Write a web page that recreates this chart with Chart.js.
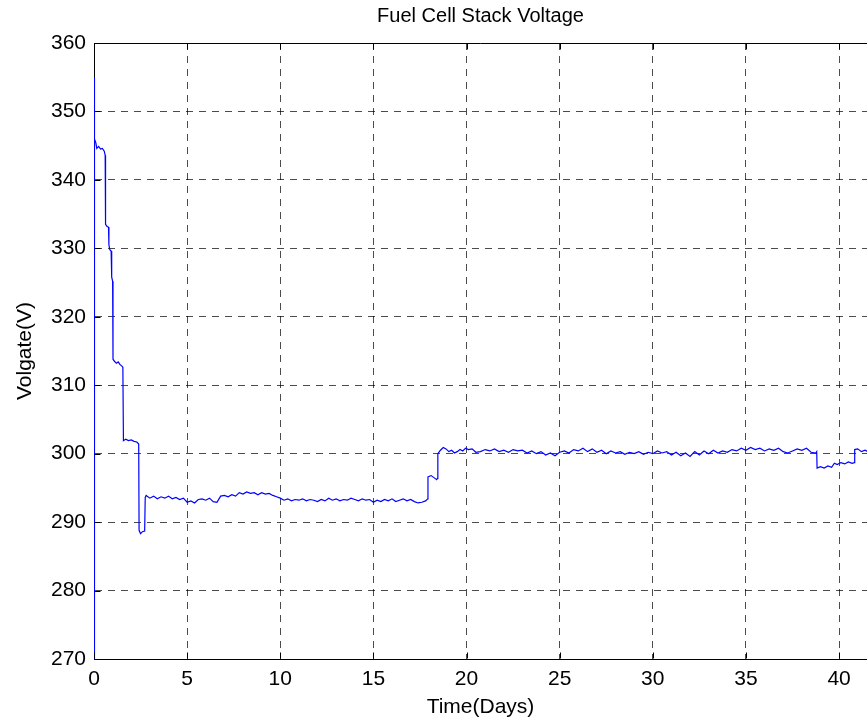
<!DOCTYPE html>
<html>
<head>
<meta charset="utf-8">
<script src="https://cdn.jsdelivr.net/npm/chart.js@4/dist/chart.umd.min.js"></script>
<style>
  body { margin: 0; background: #fff; }
  #wrap { width: 867px; height: 724px; }
</style>
</head>
<body>
<div id="wrap"><canvas id="voltChart"></canvas></div>
<script>
// data: time (days) and stack voltage (V)
const chartTitle = "Fuel Cell Stack Voltage";
const xTitle = "Time(Days)";
const yTitle = "Volgate(V)";

const xTicks = [0, 5, 10, 15, 20, 25, 30, 35, 40];
const yTicks = [270, 280, 290, 300, 310, 320, 330, 340, 350, 360];

const startTime = [0, 0, 0.05, 0.1, 0.15, 0.25, 0.35, 0.45, 0.55, 0.6, 0.62, 0.7, 0.78, 0.8, 0.85, 0.92,
  0.95, 1.0, 1.02, 1.1, 1.2, 1.3, 1.4, 1.5, 1.55, 1.58, 1.7, 1.85, 2.0, 2.15, 2.3, 2.4, 2.42, 2.5, 2.6,
  2.72, 2.75];
const startVolt = [270, 355, 346, 345.4, 344.6, 344.9, 344.5, 344.6, 344.2, 343.6, 333.5, 333.2, 333.1,
  330.5, 329.8, 329.6, 325.8, 325.2, 313.8, 313.5, 313.2, 313.4, 313.0, 312.8, 312.6, 301.9, 302.1, 301.9,
  302.0, 301.8, 301.7, 301.4, 288.8, 288.3, 288.6, 288.7, 293.6];

const plateau1Time = [2.8, 3.0, 3.2, 3.4, 3.6, 3.8, 4.0, 4.2, 4.4, 4.6, 4.8, 5.0, 5.2, 5.4, 5.6, 5.8, 6.0,
  6.2, 6.4, 6.6, 6.8, 7.0, 7.2, 7.4, 7.6, 7.8, 8.0, 8.2, 8.4, 8.6, 8.8, 9.0, 9.2, 9.4, 9.6, 9.8, 10.0,
  10.2, 10.4, 10.6, 10.8, 11.0, 11.2, 11.4, 11.6, 11.8, 12.0, 12.2, 12.4, 12.6, 12.8, 13.0, 13.2, 13.4,
  13.6, 13.8, 14.0, 14.2, 14.4, 14.6, 14.8, 15.0, 15.2, 15.4, 15.6, 15.8, 16.0, 16.2, 16.4, 16.6, 16.8,
  17.0, 17.2, 17.4, 17.6, 17.8, 17.92];
const plateau1Volt = [293.9, 293.5, 293.8, 293.4, 293.7, 293.5, 293.8, 293.4, 293.6, 293.3, 293.5, 292.9,
  293.1, 292.8, 293.3, 293.4, 293.2, 293.5, 293.0, 292.9, 293.8, 293.9, 293.7, 294.0, 293.8, 294.3, 294.1,
  294.4, 294.2, 294.3, 294.0, 294.3, 294.1, 294.2, 293.9, 293.7, 293.5, 293.2, 293.4, 293.1, 293.3, 293.2,
  293.4, 293.1, 293.3, 293.2, 293.0, 293.3, 293.1, 293.5, 293.2, 293.4, 293.1, 293.3, 293.2, 293.5, 293.3,
  293.1, 293.4, 293.2, 293.3, 292.9, 293.2, 293.0, 293.3, 293.1, 293.4, 293.0, 293.2, 293.4, 293.1, 293.3,
  293.0, 292.8, 292.9, 293.1, 293.4];

const plateau2Time = [17.93, 18.1, 18.25, 18.4, 18.44, 18.46, 18.6, 18.75, 18.9, 19.05, 19.2, 19.35, 19.5,
  19.65, 19.8, 19.95, 20.1, 20.3, 20.5, 20.75, 21.0, 21.25, 21.5, 21.75, 22.0, 22.25, 22.5, 22.75, 23.0,
  23.25, 23.5, 23.75, 24.0, 24.25, 24.5, 24.75, 25.0, 25.25, 25.5, 25.75, 26.0, 26.25, 26.5, 26.75, 27.0,
  27.25, 27.5, 27.75, 28.0, 28.25, 28.5, 28.75, 29.0, 29.25, 29.5, 29.75, 30.0, 30.25, 30.5, 30.75, 31.0,
  31.25, 31.5, 31.75, 32.0, 32.25, 32.5, 32.75, 33.0, 33.25, 33.5, 33.75, 34.0, 34.25, 34.5, 34.75, 35.0,
  35.25, 35.5, 35.75, 36.0, 36.25, 36.5, 36.75, 37.0, 37.25, 37.5, 37.75, 38.0, 38.25, 38.5, 38.75, 38.8];
const plateau2Volt = [296.6, 296.8, 296.5, 296.2, 296.4, 300.0, 300.5, 300.9, 300.7, 300.3, 300.5, 300.1,
  300.3, 300.6, 300.4, 300.8, 300.6, 300.7, 300.2, 300.3, 300.6, 300.4, 300.7, 300.3, 300.5, 300.2, 300.6,
  300.4, 300.5, 300.1, 300.4, 300.0, 300.3, 299.8, 300.1, 299.7, 300.2, 300.4, 300.1, 300.6, 300.4, 300.8,
  300.3, 300.7, 300.2, 300.5, 300.0, 300.4, 300.1, 300.3, 299.9, 300.2, 300.0, 300.3, 299.9, 300.2, 300.0,
  300.4, 300.1, 300.3, 299.8, 300.2, 299.7, 300.1, 299.6, 300.3, 299.8, 300.4, 300.0, 300.5, 300.1, 300.4,
  300.2, 300.6, 300.4, 300.8, 300.5, 300.9, 300.6, 300.8, 300.4, 300.7, 300.5, 300.8, 300.3, 300.1, 300.4,
  300.7, 300.5, 300.8, 300.2, 300.1, 300.3];

const endTime = [38.82, 39.0, 39.2, 39.4, 39.6, 39.75, 39.9, 40.1, 40.3, 40.5, 40.7, 40.82, 40.84, 41.0,
  41.2, 41.4, 41.6];
const endVolt = [297.9, 298.1, 297.9, 298.2, 298.0, 298.6, 298.4, 298.7, 298.5, 298.8, 298.6, 298.7, 300.6,
  300.7, 300.3, 300.5, 300.2];

const time = [...startTime, ...plateau1Time, ...plateau2Time, ...endTime];
const volt = [...startVolt, ...plateau1Volt, ...plateau2Volt, ...endVolt];

const FONT = '"Liberation Sans", Arial, sans-serif';

// MATLAB style box, inward ticks and title centred over the axes
const framePlugin = {
  id: 'frame',
  afterDraw(chart) {
    const { ctx, chartArea: a, scales: { x, y } } = chart;
    ctx.save();
    ctx.strokeStyle = '#000';
    ctx.lineWidth = 1;
    ctx.setLineDash([]);
    ctx.beginPath();
    const top = Math.round(a.top) + 0.5;
    const bot = Math.round(a.bottom) - 0.5;
    const left = Math.round(a.left) + 0.5;
    ctx.moveTo(left, top);
    ctx.lineTo(a.right, top);
    xTicks.forEach(v => {
      const px = Math.round(x.getPixelForValue(v)) + 0.5;
      ctx.moveTo(px, bot); ctx.lineTo(px, bot - 6);
      ctx.moveTo(px, top); ctx.lineTo(px, top + 6);
    });
    yTicks.forEach(v => {
      const py = Math.round(y.getPixelForValue(v)) + 0.5;
      ctx.moveTo(left, py); ctx.lineTo(left + 6, py);
    });
    ctx.stroke();
    ctx.fillStyle = '#000';
    ctx.font = '20px ' + FONT;
    ctx.textAlign = 'center';
    ctx.textBaseline = 'middle';
    ctx.fillText(chartTitle, (a.left + a.right) / 2, 16);
    ctx.restore();
  }
};

new Chart(document.getElementById('voltChart'), {
  type: 'line',
  data: {
    datasets: [{
      data: time.map((t, i) => ({ x: t, y: volt[i] })),
      borderColor: '#0000ff',
      borderWidth: 1.2,
      pointRadius: 0,
      tension: 0,
      fill: false
    }]
  },
  options: {
    responsive: true,
    maintainAspectRatio: false,
    animation: false,
    layout: { padding: { top: 43, right: 0, left: 0, bottom: 0 } },
    plugins: {
      legend: { display: false },
      tooltip: { enabled: false },
      title: { display: false }
    },
    scales: {
      x: {
        type: 'linear',
        min: 0,
        max: 41.5,
        afterFit: s => { s.height = 65; },
        ticks: {
          stepSize: 5,
          includeBounds: false,
          color: '#000',
          font: { family: FONT, size: 21 },
          padding: 8,
          maxRotation: 0
        },
        grid: { color: 'rgba(0,0,0,0.7)', drawTicks: false, lineWidth: 1 },
        border: { display: true, color: '#000', width: 1, dash: [7, 6] },
        title: {
          display: true,
          text: xTitle,
          color: '#000',
          font: { family: FONT, size: 21 },
          padding: { top: 0, bottom: 4 }
        }
      },
      y: {
        min: 270,
        max: 360,
        afterFit: s => { s.width = 94; },
        ticks: {
          stepSize: 10,
          color: '#000',
          font: { family: FONT, size: 21 },
          padding: 8
        },
        grid: { color: 'rgba(0,0,0,0.7)', drawTicks: false, lineWidth: 1 },
        border: { display: true, color: '#000', width: 1, dash: [7, 6] },
        title: {
          display: true,
          text: yTitle,
          color: '#000',
          font: { family: FONT, size: 21 },
          padding: { top: 13, bottom: 0 }
        }
      }
    }
  },
  plugins: [framePlugin]
});
</script>
</body>
</html>
